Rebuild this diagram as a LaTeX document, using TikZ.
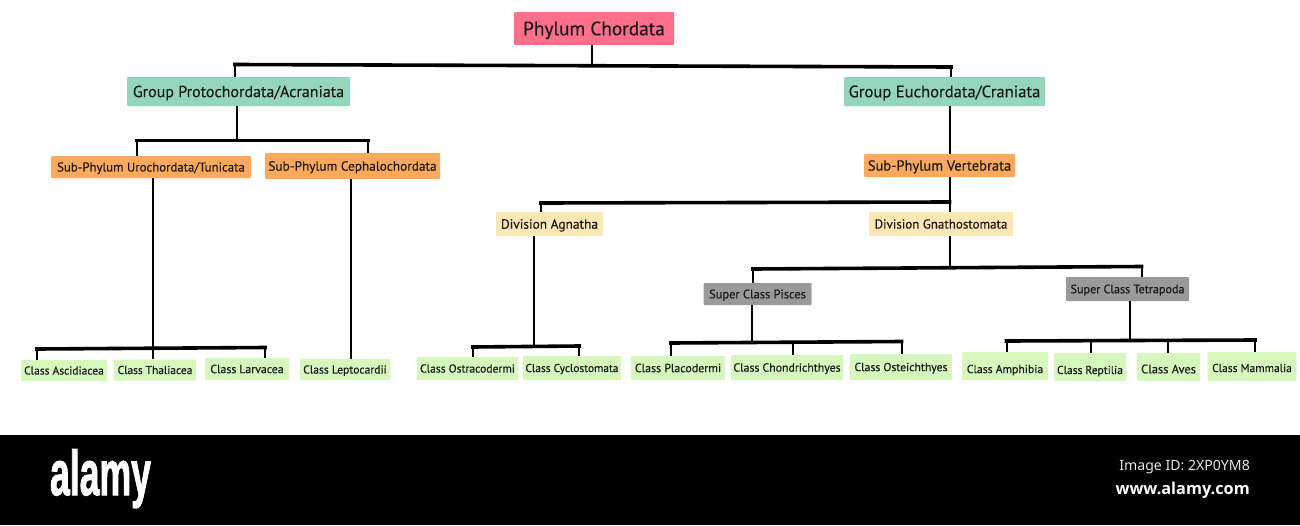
\documentclass[tikz,border=0pt]{standalone}
\usepackage{fontspec}
\newfontfamily\boxfont{PT Sans}[FakeBold=0.35]
\newfontfamily\footfont{Noto Sans}
\newfontfamily\wwwfont{Open Sans}
\newfontfamily\logofont{Liberation Sans}[BoldFeatures={FakeBold=2}]
\definecolor{phylumcol}{HTML}{FF6F8C}
\definecolor{groupcol}{HTML}{94D6B9}
\definecolor{subcol}{HTML}{FFA95C}
\definecolor{divcol}{HTML}{FCE8B4}
\definecolor{supercol}{HTML}{999999}
\definecolor{classcol}{HTML}{D6F8BD}
\tikzset{
  boxed/.style={rectangle, rounded corners=1pt, inner sep=0pt, text=black!90, align=center,
    font=\boxfont\fontsize{#1}{#1}\selectfont, text height={0.7*#1 pt}, text depth=0pt},
  phylumbox/.style={boxed=#1, fill=phylumcol},
  groupbox/.style={boxed=#1, fill=groupcol},
  subbox/.style={boxed=#1, fill=subcol},
  divbox/.style={boxed=#1, fill=divcol},
  superbox/.style={boxed=#1, fill=supercol},
  classbox/.style={boxed=#1, fill=classcol},
  bus/.style={line width=3.6pt, line cap=rect},
  stem/.style={line width=2pt}
}
\begin{document}
\begin{tikzpicture}[x=1pt,y=-1pt]
\useasboundingbox (0,0) rectangle (1300,525);

% Top of the tree
\node[phylumbox=19.3, minimum width=160pt, minimum height=33pt] (phylum) at (594,28.5) {Phylum Chordata};
\node[groupbox=16, minimum width=223pt, minimum height=29pt] (proto) at (238.5,91.5) {Group Protochordata/Acraniata};
\node[groupbox=16.6, minimum width=201pt, minimum height=29pt] (eucho) at (944.5,91.5) {Group Euchordata/Craniata};

% Sub-phyla
\node[subbox=12.8, minimum width=200pt, minimum height=22pt] (uro) at (151,167) {Sub-Phylum Urochordata/Tunicata};
\node[subbox=13.3, minimum width=175pt, minimum height=26pt] (ceph) at (352.5,166) {Sub-Phylum Cephalochordata};
\node[subbox=14.5, minimum width=151pt, minimum height=23pt] (vert) at (939.5,165.5) {Sub-Phylum Vertebrata};

% Divisions
\node[divbox=13.4, minimum width=107pt, minimum height=24pt] (agnatha) at (549.5,224) {Division Agnatha};
\node[divbox=13, minimum width=144pt, minimum height=24pt] (gnatho) at (941,224) {Division Gnathostomata};

% Super classes
\node[superbox=12.4, minimum width=108pt, minimum height=22pt] (pisces) at (757.5,294) {Super Class Pisces};
\node[superbox=12.1, minimum width=123pt, minimum height=24pt] (tetra) at (1127.5,289) {Super Class Tetrapoda};

% Classes
\node[classbox=11.5, minimum width=86pt, minimum height=21pt] (ascidiacea) at (64,370.5) {Class Ascidiacea};
\node[classbox=11.4, minimum width=82pt, minimum height=21pt] (thaliacea) at (155,370) {Class Thaliacea};
\node[classbox=11.8, minimum width=84pt, minimum height=22pt] (larvacea) at (247,369) {Class Larvacea};
\node[classbox=11.6, minimum width=90pt, minimum height=21pt] (leptocardii) at (345,369.5) {Class Leptocardii};
\node[classbox=11.6, minimum width=101pt, minimum height=23pt] (ostraco) at (467.5,368.5) {Class Ostracodermi};
\node[classbox=11.4, minimum width=98pt, minimum height=24pt] (cyclo) at (572,368) {Class Cyclostomata};
\node[classbox=11.9, minimum width=94pt, minimum height=24pt] (placo) at (678,368) {Class Placodermi};
\node[classbox=11.8, minimum width=112pt, minimum height=25pt] (chondri) at (787,367.5) {Class Chondrichthyes};
\node[classbox=11.7, minimum width=102pt, minimum height=26pt] (osteich) at (901,367) {Class Osteichthyes};
\node[classbox=11.7, text height=14.2pt, minimum width=86pt, minimum height=28pt] (amphibia) at (1005,366) {Class Amphibia};
\node[classbox=11.5, text height=14pt, minimum width=72pt, minimum height=28pt] (reptilia) at (1090,367) {Class Reptilia};
\node[classbox=12.4, text height=12.7pt, minimum width=63pt, minimum height=28pt] (aves) at (1168.5,367) {Class Aves};
\node[classbox=11.5, text height=11pt, minimum width=89pt, minimum height=29pt] (mammalia) at (1252,366.5) {Class Mammalia};

% Joints on the horizontal bars
\coordinate (topL) at (235,64.5);
\coordinate (topM) at (592,65.5);
\coordinate (topR) at (951,67);
\coordinate (protoL) at (137,140.5);
\coordinate (protoM) at (236.5,140.5);
\coordinate (protoR) at (368,140.5);
\coordinate (uroL) at (37,349);
\coordinate (uroM) at (153,348);
\coordinate (uroR) at (265,347.5);
\coordinate (lepto) at (350.5,270);
\coordinate (vertL) at (541,203);
\coordinate (vertR) at (949.5,202);
\coordinate (agnL) at (473,347);
\coordinate (agnM) at (534,346);
\coordinate (agnR) at (579,346);
\coordinate (gnaL) at (753,269);
\coordinate (gnaM) at (949.5,267.5);
\coordinate (gnaR) at (1141.5,266.5);
\coordinate (pisL) at (671,343);
\coordinate (pisM) at (752,342.5);
\coordinate (pisC) at (792.5,342);
\coordinate (pisR) at (901.5,341.5);
\coordinate (tetL) at (1006.5,341);
\coordinate (tetB) at (1091,340.5);
\coordinate (tetM) at (1130,340.5);
\coordinate (tetC) at (1168,340);
\coordinate (tetR) at (1255,340);

% Horizontal bars
\draw[bus] (topL) -- (topR);
\draw[bus] (protoL) -- (protoR);
\draw[bus] (uroL) -- (uroR);
\draw[bus] (vertL) -- (vertR);
\draw[bus] (agnL) -- (agnR);
\draw[bus] (gnaL) -- (gnaR);
\draw[bus] (pisL) -- (pisR);
\draw[bus] (tetL) -- (tetR);

% Vertical connectors
\draw[stem] (phylum.south -| topM) -- (topM);
\draw[stem] (topL) -- (proto.north -| topL);
\draw[stem] (topR) -- (eucho.north -| topR);
\draw[stem] (proto.south -| protoM) -- (protoM);
\draw[stem] (protoL) -- (uro.north -| protoL);
\draw[stem] (protoR) -- (ceph.north -| protoR);
\draw[stem] (uro.south -| uroM) -- (thaliacea.north -| uroM);
\draw[stem] (uroL) -- (ascidiacea.north -| uroL);
\draw[stem] (uroR) -- (larvacea.north -| uroR);
\draw[stem] (ceph.south -| lepto) -- (leptocardii.north -| lepto);
\draw[stem] (eucho.south -| vertR) -- (vert.north -| vertR);
\draw[stem] (vert.south -| vertR) -- (gnatho.north -| vertR);
\draw[stem] (vertL) -- (agnatha.north -| vertL);
\draw[stem] (agnatha.south -| agnM) -- (agnM);
\draw[stem] (agnL) -- (ostraco.north -| agnL);
\draw[stem] (agnR) -- (cyclo.north -| agnR);
\draw[stem] (gnatho.south -| gnaM) -- (gnaM);
\draw[stem] (gnaL) -- (pisces.north -| gnaL);
\draw[stem] (gnaR) -- (tetra.north -| gnaR);
\draw[stem] (pisces.south -| pisM) -- (pisM);
\draw[stem] (pisL) -- (placo.north -| pisL);
\draw[stem] (pisC) -- (chondri.north -| pisC);
\draw[stem] (pisR) -- (osteich.north -| pisR);
\draw[stem] (tetra.south -| tetM) -- (tetM);
\draw[stem] (tetL) -- (amphibia.north -| tetL);
\draw[stem] (tetB) -- (reptilia.north -| tetB);
\draw[stem] (tetC) -- (aves.north -| tetC);
\draw[stem] (tetR) -- (mammalia.north -| tetR);

% Black band at the bottom
\fill[black] (0,435) rectangle (1300,525);
\node[text=white, font=\logofont\bfseries\fontsize{63}{63}\selectfont, xscale=0.565, inner sep=0pt, anchor=base] (logo) at (100.5,495) {alamy};
\node[text=white!90!black, font=\footfont\fontsize{14.1}{16}\selectfont, anchor=east, inner sep=0pt] (imageid) at (1250,467) {Image ID: 2XP0YM8};
\node[text=white, font=\wwwfont\bfseries\fontsize{16.3}{18}\selectfont, anchor=east, inner sep=0pt] (website) at (1250,490.5) {www.alamy.com};
\end{tikzpicture}
\end{document}
